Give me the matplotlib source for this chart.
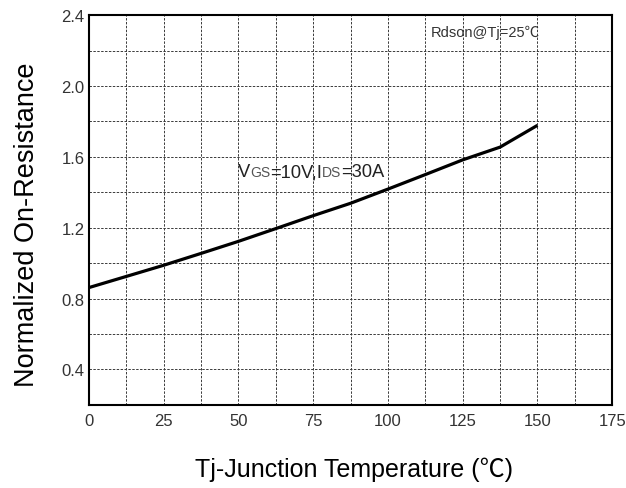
import matplotlib
matplotlib.use("Agg")
import matplotlib.pyplot as plt
import numpy as np

temps = [0, 12.5, 25, 37.5, 50, 62.5, 75, 87.5, 100, 112.5, 125, 137.5, 150]
rdson = [0.862, 0.925, 0.988, 1.055, 1.123, 1.195, 1.268, 1.338, 1.418, 1.500, 1.583, 1.655, 1.778]
xticks = [0, 25, 50, 75, 100, 125, 150, 175]
yticks = [0.4, 0.8, 1.2, 1.6, 2.0, 2.4]

FONT = ['Liberation Sans', 'Noto Sans CJK SC', 'DejaVu Sans']
plt.rcParams['font.family'] = FONT

fig = plt.figure(figsize=(6.26, 4.89), dpi=100)
ax = fig.add_axes([0.142, 0.170, 0.836, 0.797])
ax.plot(temps, rdson, color='black', lw=2.3, solid_capstyle='butt')
ax.set_xlim(0, 175)
ax.set_ylim(0.2, 2.4)
ax.set_xticks(xticks)
ax.set_yticks(yticks)
ax.set_xticks(np.arange(0, 175.1, 12.5), minor=True)
ax.set_yticks(np.arange(0.2, 2.41, 0.2), minor=True)
ax.grid(which='both', color='#3a3a3a', linestyle=(0, (2.5, 1.5)), linewidth=0.7)
ax.tick_params(which='both', length=0, labelsize=12, labelcolor='#333333')
ax.tick_params(axis='x', pad=6)
ax.tick_params(axis='y', pad=3)
for s in ax.spines.values():
    s.set_linewidth(1.5)
    s.set_color('black')

ax.set_ylabel('Normalized On-Resistance', fontsize=19.5, va='center')
ax.yaxis.set_label_coords(-0.118, 0.465)
ax.set_xlabel('Tj-Junction Temperature (℃)', fontsize=18, va='center')
ax.xaxis.set_label_coords(0.507, -0.165)

ax.text(0.654, 0.956, 'Rdson@Tj=25℃', transform=ax.transAxes, fontsize=10.5,
        color='#333333', ha='left', va='center')

# V_GS=10V, I_DS=30A with small letters on the baseline
fig.canvas.draw()
renderer = fig.canvas.get_renderer()
parts = [('V', 13.2), ('GS', 10), ('=10V,I', 13.2), ('DS', 10), ('=30A', 13.2)]
x0, y0 = ax.transData.transform((49.8, 1.49))
xcur = x0
for txt, fs in parts:
    t = fig.text(xcur / fig.bbox.width, y0 / fig.bbox.height, txt, fontsize=fs,
                 color='#555555' if fs < 11 else '#222222', ha='left', va='baseline')
    bb = t.get_window_extent(renderer)
    xcur += bb.width

fig.savefig('out.png', dpi=100)
